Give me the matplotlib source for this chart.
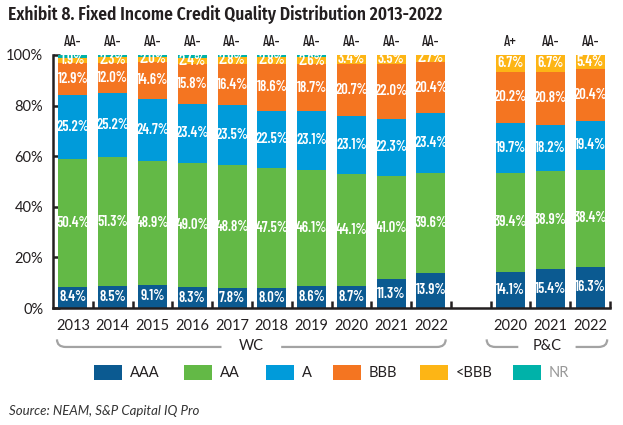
import matplotlib
matplotlib.use("Agg")
import matplotlib.pyplot as plt
from matplotlib.patches import Rectangle, PathPatch
from matplotlib.path import Path
import matplotlib.transforms as mtransforms
import numpy as np

# ---- data ----
years = ["2013", "2014", "2015", "2016", "2017", "2018", "2019", "2020", "2021", "2022",
         "", "2020", "2021", "2022"]
groups = ["WC", "P&C"]
ratings = ["AA-", "AA-", "AA-", "AA-", "AA-", "AA-", "AA-", "AA-", "AA-", "AA-",
           "", "A+", "AA-", "AA-"]
series_names = ["AAA", "AA", "A", "BBB", "<BBB", "NR"]
aaa = [8.4, 8.5, 9.1, 8.3, 7.8, 8.0, 8.6, 8.7, 11.3, 13.9, 0, 14.1, 15.4, 16.3]
aa = [50.4, 51.3, 48.9, 49.0, 48.8, 47.5, 46.1, 44.1, 41.0, 39.6, 0, 39.4, 38.9, 38.4]
a = [25.2, 25.2, 24.7, 23.4, 23.5, 22.5, 23.1, 23.1, 22.3, 23.4, 0, 19.7, 18.2, 19.4]
bbb = [12.9, 12.0, 14.6, 15.8, 16.4, 18.6, 18.7, 20.7, 22.0, 20.4, 0, 20.2, 20.8, 20.4]
below_bbb = [1.9, 2.3, 2.0, 2.4, 2.8, 2.8, 2.6, 3.4, 3.5, 2.7, 0, 6.7, 6.7, 5.4]
nr = [1.2, 0.7, 0.7, 1.1, 0.7, 0.6, 0.9, 0.0, 0.0, 0.0, 0, 0.0, 0.0, 0.0]
show_label = [True, True, True, True, True, False]

colors = ["#0B5A91", "#63B946", "#009BDA", "#F47521", "#FDB515", "#00B2A9"]
TXT = "#231F20"
NARROW = ["Barlow Condensed", "DejaVu Sans"]
MAIN = ["Lato", "DejaVu Sans"]

fig = plt.figure(figsize=(6.23, 4.25), dpi=100)
ax = fig.add_axes([53 / 623, 117 / 425, 557 / 623, 253 / 425])

x = np.arange(len(years))
data = [aaa, aa, a, bbb, below_bbb, nr]
bottom = np.zeros(len(years))
for vals, col, name, lab in zip(data, colors, series_names, show_label):
    v = np.array(vals, dtype=float)
    ax.bar(x, v, bottom=bottom, width=0.73, color=col, linewidth=0, zorder=2)
    if lab:
        for xi, vi, bi in zip(x, v, bottom):
            if vi > 0:
                ax.text(xi, bi + vi / 2, f"{vi:.1f}%", ha="center", va="center",
                        color="white", fontsize=10.5, family=NARROW, fontweight="semibold",
                        zorder=3)
    bottom += v

for xi, r in zip(x, ratings):
    if r:
        ax.text(xi, 105, r, ha="center", va="center", color=TXT, fontsize=10.5,
                family=NARROW, fontweight="medium", clip_on=False)

ax.set_xlim(-0.5, 13.5)
ax.set_ylim(0, 100)
ax.set_yticks([0, 20, 40, 60, 80, 100])
ax.set_yticklabels([f"{v}%" for v in [0, 20, 40, 60, 80, 100]], family=MAIN,
                   fontsize=10.5, color=TXT)
ax.set_xticks(np.arange(0.5, 14, 1.0))
ax.set_xticklabels([])
ax.set_xticks(x, minor=True)
ax.set_xticklabels(years, minor=True, family=MAIN, fontsize=10.5, color=TXT)
ax.tick_params(axis="x", which="major", direction="in", length=5, width=1.8, color=TXT)
ax.tick_params(axis="x", which="minor", length=0, pad=8)
ax.tick_params(axis="y", direction="in", length=5, width=1.8, color=TXT, pad=7)
for s in ["top", "right"]:
    ax.spines[s].set_visible(False)
for s in ["left", "bottom"]:
    ax.spines[s].set_linewidth(1.8)
    ax.spines[s].set_color(TXT)

# ---- group brackets ----
trans = mtransforms.blended_transform_factory(ax.transData, ax.transAxes)
y_line, y_top = -0.154, -0.124
def bracket(x0, x1, label, gap):
    xm = (x0 + x1) / 2
    dx = 0.22
    for xa, xb, side in [(x0, xm - gap, "L"), (xm + gap, x1, "R")]:
        if side == "L":
            verts = [(xa, y_top), (xa, y_line), (xa + dx, y_line), (xb, y_line)]
            codes = [Path.MOVETO, Path.CURVE3, Path.CURVE3, Path.LINETO]
        else:
            verts = [(xa, y_line), (xb - dx, y_line), (xb, y_line), (xb, y_top)]
            codes = [Path.MOVETO, Path.LINETO, Path.CURVE3, Path.CURVE3]
        ax.add_patch(PathPatch(Path(verts, codes), fill=False, edgecolor="#A3A3A3",
                               linewidth=1.6, transform=trans, clip_on=False))
    ax.text(xm, y_line + 0.005, label, ha="center", va="center", transform=trans,
            fontsize=10.5, color=TXT, family=MAIN)

bracket(-0.4, 9.37, groups[0], 0.75)
bracket(10.4, 13.43, groups[1], 0.72)

# ---- legend ----
leg_x = [94, 184, 266, 333, 420, 513]
for px, col, name in zip(leg_x, colors, series_names):
    fig.patches.append(Rectangle((px / 623, (425 - 379.5) / 425), 28 / 623, 15 / 425,
                                 transform=fig.transFigure, facecolor=col,
                                 edgecolor="none", figure=fig))
    fig.text((px + 36) / 623, (425 - 373) / 425, name, ha="left", va="center",
             fontsize=10.5, family=MAIN, color="#999999" if name == "NR" else TXT)

fig.text(8 / 623, (425 - 15) / 425, "Exhibit 8. Fixed Income Credit Quality Distribution 2013-2022",
         ha="left", va="center", fontsize=12.5, fontweight="semibold",
         family=["Fira Sans Condensed", "DejaVu Sans"], color=TXT)
fig.text(9 / 623, (425 - 411) / 425, "Source: NEAM, S&P Capital IQ Pro", ha="left", va="center",
         fontsize=9.5, style="italic", family=MAIN, color="#333333")

fig.savefig("out.png", dpi=100)
